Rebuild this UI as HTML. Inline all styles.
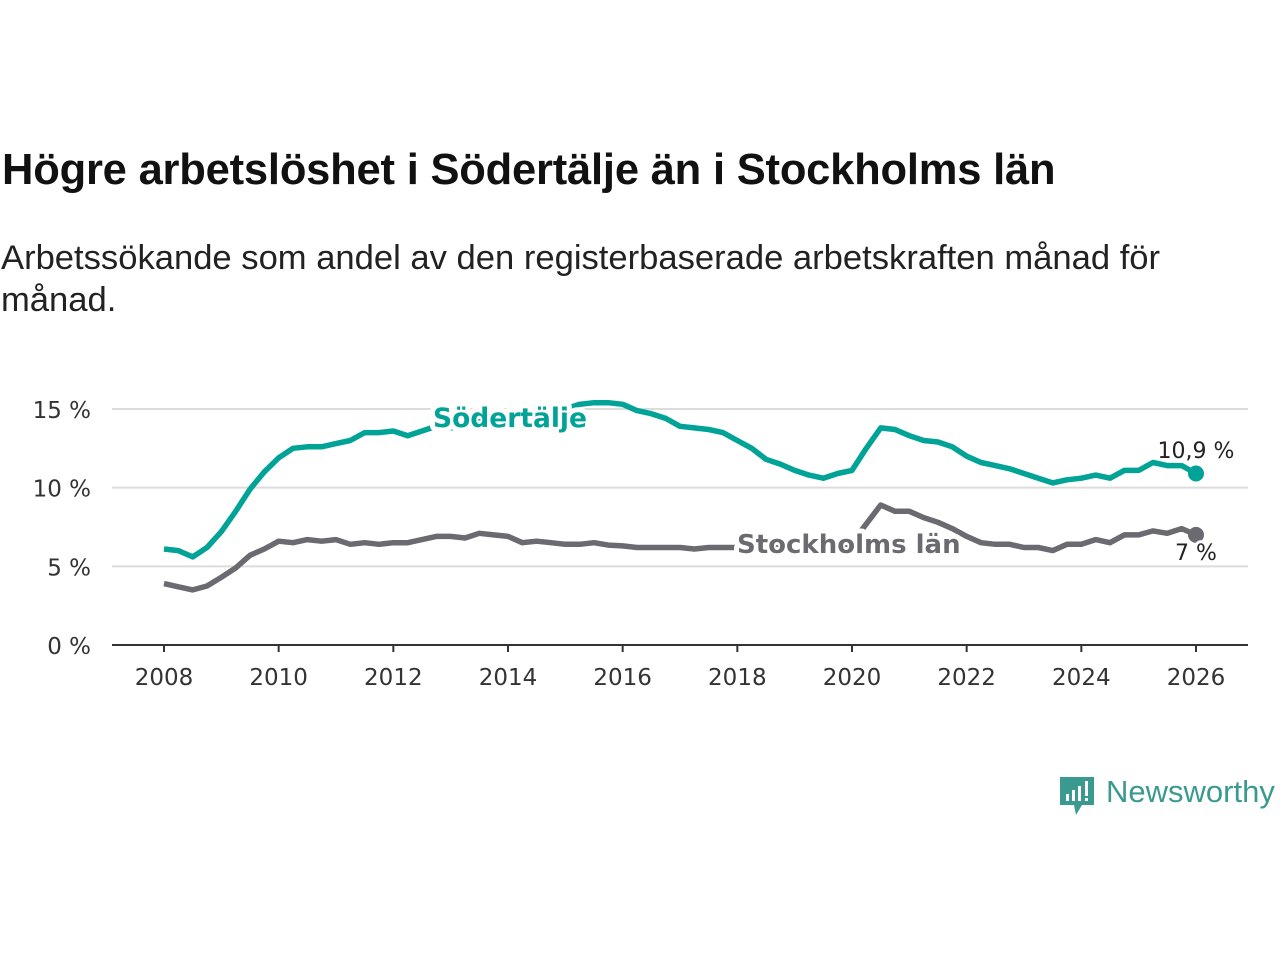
<!DOCTYPE html>
<html><head><meta charset="utf-8">
<style>
body{margin:0;background:#fff;width:1280px;height:960px;overflow:hidden;font-family:"DejaVu Sans","Liberation Sans",sans-serif;}
#title{position:absolute;left:2px;top:146px;font-size:43.5px;font-weight:bold;color:#111;letter-spacing:-0.2px;white-space:nowrap;font-family:"Liberation Sans",sans-serif;}
#sub{position:absolute;left:1px;top:237px;font-size:34.6px;color:#222;line-height:42px;width:1180px;font-family:"Liberation Sans",sans-serif;}
svg{position:absolute;left:0;top:0;}
</style></head><body>
<div id="title">Högre arbetslöshet i Södertälje än i Stockholms län</div>
<div id="sub">Arbetssökande som andel av den registerbaserade arbetskraften månad för månad.</div>
<svg width="1280" height="960">
<g id="grid"></g><g id="lines"></g><g id="labels"></g>
<g>
<path d="M1060 777 h34 v28 h-12 l-6 10 l-2 -10 h-14 z" fill="#3a9a8f"/>
<rect x="1066" y="794" width="3" height="7" fill="#fff"/><rect x="1072" y="790" width="3" height="11" fill="#fff"/><rect x="1078" y="786" width="3" height="15" fill="#fff"/><rect x="1085" y="781" width="3" height="15" fill="#fff"/><rect x="1085" y="798" width="3" height="3" fill="#fff"/>
<text x="1106" y="802" font-size="31" fill="#3a9a8f" font-family="Liberation Sans, sans-serif">Newsworthy</text>
</g>
</svg>
<script>
const yTicks=[0,5,10,15];
const xTicks=[2008,2010,2012,2014,2016,2018,2020,2022,2024,2026];
const sodertalje=[6.1,6.0,5.6,6.2,7.2,8.5,9.9,11.0,11.9,12.5,12.6,12.6,12.8,13.0,13.5,13.5,13.6,13.3,13.6,13.9,13.8,14.0,14.2,14.4,14.6,14.7,14.8,14.9,15.0,15.3,15.4,15.4,15.3,14.9,14.7,14.4,13.9,13.8,13.7,13.5,13.0,12.5,11.8,11.5,11.1,10.8,10.6,10.9,11.1,12.5,13.8,13.7,13.3,13.0,12.9,12.6,12.0,11.6,11.4,11.2,10.9,10.6,10.3,10.5,10.6,10.8,10.6,11.1,11.1,11.6,11.4,11.4,10.9];
const stockholm=[3.9,3.7,3.5,3.75,4.3,4.9,5.7,6.1,6.6,6.5,6.7,6.6,6.7,6.4,6.5,6.4,6.5,6.5,6.7,6.9,6.9,6.8,7.1,7.0,6.9,6.5,6.6,6.5,6.4,6.4,6.5,6.35,6.3,6.2,6.2,6.2,6.2,6.1,6.2,6.2,6.2,6.2,6.2,6.3,6.3,6.2,6.1,6.0,6.5,7.7,8.9,8.5,8.5,8.1,7.8,7.4,6.9,6.5,6.4,6.4,6.2,6.2,6.0,6.4,6.4,6.7,6.5,7.0,7.0,7.25,7.1,7.4,7.0];
const startYear=2008, step=0.25;
const X=t=>164+(t-2008)*(1196-164)/18;
const Y=v=>645-v*(645-409)/15;
const NS="http://www.w3.org/2000/svg";
function mk(tag,attrs,parent,txt){const e=document.createElementNS(NS,tag);for(const k in attrs)e.setAttribute(k,attrs[k]);if(txt!==undefined)e.textContent=txt;parent.appendChild(e);return e;}
const grid=document.getElementById('grid');
yTicks.forEach(v=>{
 if(v>0){const l=mk('line',{x1:112,x2:1248,y1:Y(v),y2:Y(v),stroke:'#dcdcdc','stroke-width':2},grid);
 
 }
 const t=mk('text',{x:91,y:Y(v)+9,'font-size':23,fill:'#333','text-anchor':'end'},grid,v+' %');
 
 
});
const ax=mk('line',{x1:112,x2:1248,y1:645,y2:645,stroke:'#333','stroke-width':2},grid);


xTicks.forEach(y=>{
 const tk=mk('line',{x1:X(y),x2:X(y),y1:645,y2:652,stroke:'#333','stroke-width':2},grid);
 
 
 const t=mk('text',{x:X(y),y:685,'font-size':23,fill:'#333','text-anchor':'middle'},grid,String(y));
 
 
});
const lines=document.getElementById('lines');
function series(arr,color,name){
 const d=arr.map((v,i)=>(i?'L':'M')+X(startYear+i*step).toFixed(1)+' '+Y(v).toFixed(1)).join(' ');
 const p=mk('path',{d:d,fill:'none',stroke:color,'stroke-width':5.5,'stroke-linejoin':'round'},lines);
 
 
 const last=arr[arr.length-1];
 const c=mk('circle',{cx:X(startYear+(arr.length-1)*step),cy:Y(last),r:8,fill:color},lines);
 
 
}
series(stockholm,'#6b6a70','stockholm');
series(sodertalje,'#00a396','sodertalje');
const lab=document.getElementById('labels');
function label(x,y,txt,color,size,bold,name,anchor){
 const t=mk('text',{x:x,y:y,'font-size':size,fill:color,'font-weight':bold?'bold':'normal',stroke:'#fff','stroke-width':bold?10:6,'paint-order':'stroke','stroke-linejoin':'round','text-anchor':anchor||'start'},lab,txt);
 
 
}
label(433,427,'Södertälje','#00a396',26.5,true,'sodertalje-label');
label(737,553,'Stockholms län','#6b6a70',26,true,'stockholm-label');
label(1196,458,'10,9 %','#222',22,false,'sodertalje-value-label','middle');
label(1196,560,'7 %','#222',22,false,'stockholm-value-label','middle');
</script>
</body></html>
